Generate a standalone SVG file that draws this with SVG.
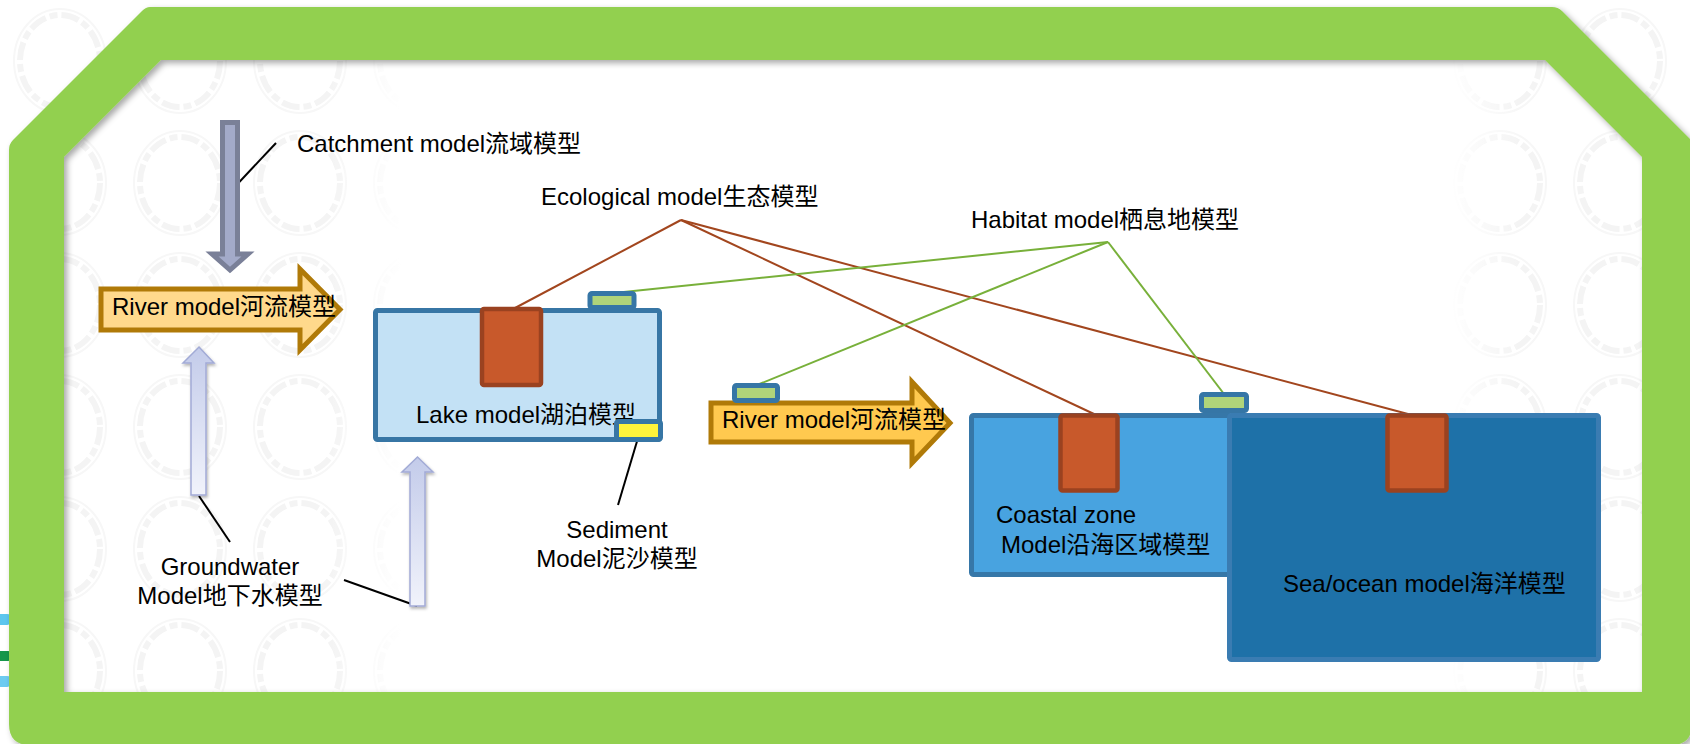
<svg xmlns="http://www.w3.org/2000/svg" width="1690" height="744" viewBox="0 0 1690 744">
<defs>
<style>
.t{font-family:"Liberation Sans","Noto Sans CJK SC",sans-serif;font-size:24px;fill:#000}
.lead{stroke:#000;stroke-width:2;fill:none}
.eco{stroke:#A2461E;stroke-width:2;fill:none}
.hab{stroke:#78B03A;stroke-width:2;fill:none}
.er{fill:#C8592B;stroke:#9A4220;stroke-width:4.5}
.hb{fill:#B0D47A;stroke:#3676A6;stroke-width:5}
.river{stroke:#B07A08;stroke-width:5;stroke-linejoin:miter}
.gw{fill:url(#gwg);stroke:#A2ABD6;stroke-width:1.5;filter:url(#sh2)}
</style>
<pattern id="rings" x="0" y="0" width="120" height="122" patternUnits="userSpaceOnUse">
<ellipse cx="60" cy="61" rx="40" ry="46" fill="none" stroke="#F4F4F4" stroke-width="6" stroke-dasharray="18 4 8 4"/>
<ellipse cx="60" cy="61" rx="46" ry="52" fill="none" stroke="#F7F7F7" stroke-width="2"/>
</pattern>
<linearGradient id="fade" x1="0" x2="1" y1="0" y2="0">
<stop offset="0" stop-color="#fff" stop-opacity="0"/>
<stop offset="0.06" stop-color="#fff" stop-opacity="1"/>
<stop offset="0.94" stop-color="#fff" stop-opacity="1"/>
<stop offset="1" stop-color="#fff" stop-opacity="0"/>
</linearGradient>
<linearGradient id="gwg" x1="0" x2="0" y1="0" y2="1">
<stop offset="0" stop-color="#C3CBEA"/>
<stop offset="1" stop-color="#F1F3FB"/>
</linearGradient>
<filter id="sh" x="-5%" y="-5%" width="110%" height="110%">
<feDropShadow dx="3" dy="3" stdDeviation="3" flood-color="#000" flood-opacity="0.35"/>
</filter>
<filter id="sh2" x="-50%" y="-10%" width="200%" height="120%">
<feDropShadow dx="1" dy="2" stdDeviation="1.5" flood-color="#000" flood-opacity="0.3"/>
</filter>
</defs>

<g id="background">
<rect x="0" y="0" width="1690" height="744" fill="#FFFFFF"/>
<rect x="0" y="0" width="1690" height="744" fill="url(#rings)"/>
<rect x="330" y="60" width="1190" height="640" fill="url(#fade)"/>
<rect x="-10" y="614" width="22" height="11" rx="5" fill="#5CC6EE"/>
<rect x="-10" y="651" width="22" height="10" rx="4" fill="#16964A"/>
<rect x="-10" y="676" width="22" height="11" rx="5" fill="#6CCBF0"/>
</g>

<g id="frame">
<path filter="url(#sh)" fill="#92D050" fill-rule="evenodd" d="M150,7 L1552,7 Q1558,7 1562,11 L1692,141 L1692,724 Q1692,745 1671,745 L30,745 Q9,745 9,724 L9,150 Q9,144 13,140 L142,11 Q146,7 150,7 Z M161,60 L64,157 L64,692 L1642,692 L1642,157 L1545,60 Z"/>
</g>

<g id="connectors">
<line class="lead" x1="276" y1="143" x2="229" y2="193"/>
<line class="lead" x1="638" y1="438" x2="618" y2="505"/>
<line class="lead" x1="199" y1="496" x2="230" y2="542"/>
<line class="lead" x1="344" y1="580" x2="417" y2="606"/>
<line class="eco" x1="681" y1="220" x2="515" y2="308"/>
<line class="eco" x1="681" y1="220" x2="1094" y2="414"/>
<line class="eco" x1="681" y1="220" x2="1408" y2="414"/>
<line class="hab" x1="1108" y1="242" x2="614" y2="293"/>
<line class="hab" x1="1108" y1="242" x2="757" y2="385"/>
<line class="hab" x1="1108" y1="242" x2="1224" y2="394"/>
</g>

<g id="catchment-arrow">
<polygon points="222.5,122.5 237.5,122.5 237.5,254 248,254 230,270 212,254 222.5,254" fill="#A3AAC9" stroke="#7A8098" stroke-width="5"/>
</g>

<g id="groundwater-arrows">
<polygon class="gw" points="199,347 214,363 206,363 206,495 191,495 191,363 183,363"/>
<polygon class="gw" points="417.5,457 433,472 425,472 425,606 410,606 410,472 402,472"/>
</g>

<g id="river-model-1">
<polygon class="river" fill="#FFD98C" points="101,289 300,289 300,269 340,309.5 300,350 300,330 101,330"/>
<text class="t" x="112" y="315">River model河流模型</text>
</g>

<g id="lake-model">
<rect x="375.5" y="310.5" width="284" height="129" rx="2" fill="#C3E1F5" stroke="#3776A5" stroke-width="5"/>
<rect class="er" x="482" y="309" width="59" height="76" rx="2"/>
<rect class="hb" x="590" y="293.5" width="44" height="14" rx="2"/>
<text class="t" x="416" y="423">Lake model湖泊模型</text>
<rect id="sediment-box" x="616.5" y="421.5" width="44" height="18" rx="2" fill="#FFF33B" stroke="#3776A5" stroke-width="5"/>
</g>

<g id="river-model-2">
<polygon class="river" fill="#FFC94F" points="711,403 912,403 912,382 950,423 912,463 912,442 711,442"/>
<rect class="hb" x="734.5" y="385.5" width="43" height="15" rx="2"/>
<text class="t" x="722" y="428">River model河流模型</text>
</g>

<g id="coastal-model">
<rect x="971.5" y="415.5" width="260" height="159" rx="2" fill="#48A3E0" stroke="#3677A8" stroke-width="5"/>
<rect class="er" x="1060.5" y="415.5" width="57" height="75" rx="2"/>
<text class="t" x="996" y="523">Coastal zone</text>
<text class="t" x="1001" y="553">Model沿海区域模型</text>
</g>

<g id="sea-model">
<rect x="1229.5" y="415.5" width="369" height="244" rx="2" fill="#1E71A8" stroke="#3A7CB2" stroke-width="5"/>
<rect class="er" x="1387.5" y="415.5" width="59" height="75" rx="2"/>
<text class="t" x="1283" y="592">Sea/ocean model海洋模型</text>
</g>

<g id="coastal-habitat-box">
<rect class="hb" x="1201.5" y="394.5" width="45" height="16" rx="2"/>
</g>

<g id="labels">
<text class="t" x="297" y="152">Catchment model流域模型</text>
<text class="t" x="541" y="205">Ecological model生态模型</text>
<text class="t" x="971" y="228">Habitat model栖息地模型</text>
<text class="t" x="617" y="538" text-anchor="middle">Sediment</text>
<text class="t" x="617" y="567" text-anchor="middle">Model泥沙模型</text>
<text class="t" x="230" y="575" text-anchor="middle">Groundwater</text>
<text class="t" x="230" y="604" text-anchor="middle">Model地下水模型</text>
</g>
</svg>
